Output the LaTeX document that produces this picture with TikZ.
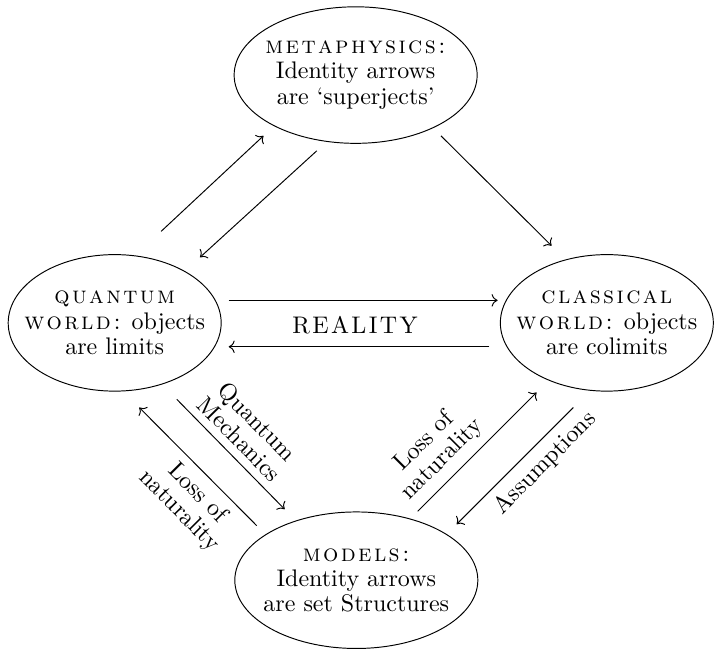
\documentclass[tikz,border=0pt]{standalone}
\usetikzlibrary{shapes,arrows.meta}

% letter spacing for the small caps headings
\def\track#1{\trackloop#1\relax}
\def\trackloop#1{\ifx#1\relax\unkern\else#1\kern0.1em\expandafter\trackloop\fi}

\tikzset{
  realm/.style={draw, ellipse, align=center, inner xsep=-0.4cm, inner ysep=0pt},
  wide/.style={minimum width=3.56cm, minimum height=2.0cm},
  side/.style={minimum width=3.12cm, minimum height=2.0cm},
}

\begin{document}
\begin{tikzpicture}[font=\fontsize{10}{10.5}\selectfont]
  \useasboundingbox (0,0) rectangle (10.46,9.50);

  \node[realm, wide] (meta) at (5.21,8.40) {\textsc{\track{metaphysics:}}\\Identity arrows\\are `superjects'};
  \node[realm, side] (quantum) at (1.68,4.77) {\textsc{\track{quantum}}\\\textsc{\track{world:}} objects\\are limits};
  \node[realm, side] (classical) at (8.89,4.77) {\textsc{\track{classical}}\\\textsc{\track{world:}} objects\\are colimits};
  \node[realm, wide] (models) at (5.22,1.00) {\textsc{\track{models:}}\\Identity arrows\\are set Structures};

  \node (reality) at (5.20,4.74) {\track{REALITY}};

  % between the worlds and metaphysics
  \draw[->] ([shift={(0.68,1.34)}]quantum.center) -- ([shift={(-1.35,-0.89)}]meta.center);
  \draw[->] ([shift={(-0.57,-1.11)}]meta.center) -- ([shift={(1.25,0.96)}]quantum.center);
  \draw[->] ([shift={(1.25,-0.89)}]meta.center) -- ([shift={(-0.81,1.13)}]classical.center);

  % reality
  \draw[->] ([shift={(1.67,0.33)}]quantum.center) -- ([shift={(-1.60,0.33)}]classical.center);
  \draw[->] ([shift={(-1.72,-0.35)}]classical.center) -- ([shift={(1.67,-0.35)}]quantum.center);

  % between the worlds and the models
  \draw[->] ([shift={(0.91,-1.12)}]quantum.center) -- node[sloped, above, pos=0.47, align=center] {Quantum\\Mechanics} ([shift={(-1.05,1.04)}]models.center);
  \draw[->] ([shift={(-1.46,0.80)}]models.center) -- node[sloped, below, pos=0.39, align=center] {Loss of\\naturality} ([shift={(0.36,-1.24)}]quantum.center);
  \draw[->] ([shift={(0.90,1.01)}]models.center) -- node[sloped, above, pos=0.32, align=center] {Loss of\\naturality} ([shift={(-1.03,-1.02)}]classical.center);
  \draw[->] ([shift={(-0.49,-1.24)}]classical.center) -- node[sloped, below, pos=0.36] {Assumptions} ([shift={(1.47,0.82)}]models.center);
\end{tikzpicture}
\end{document}
